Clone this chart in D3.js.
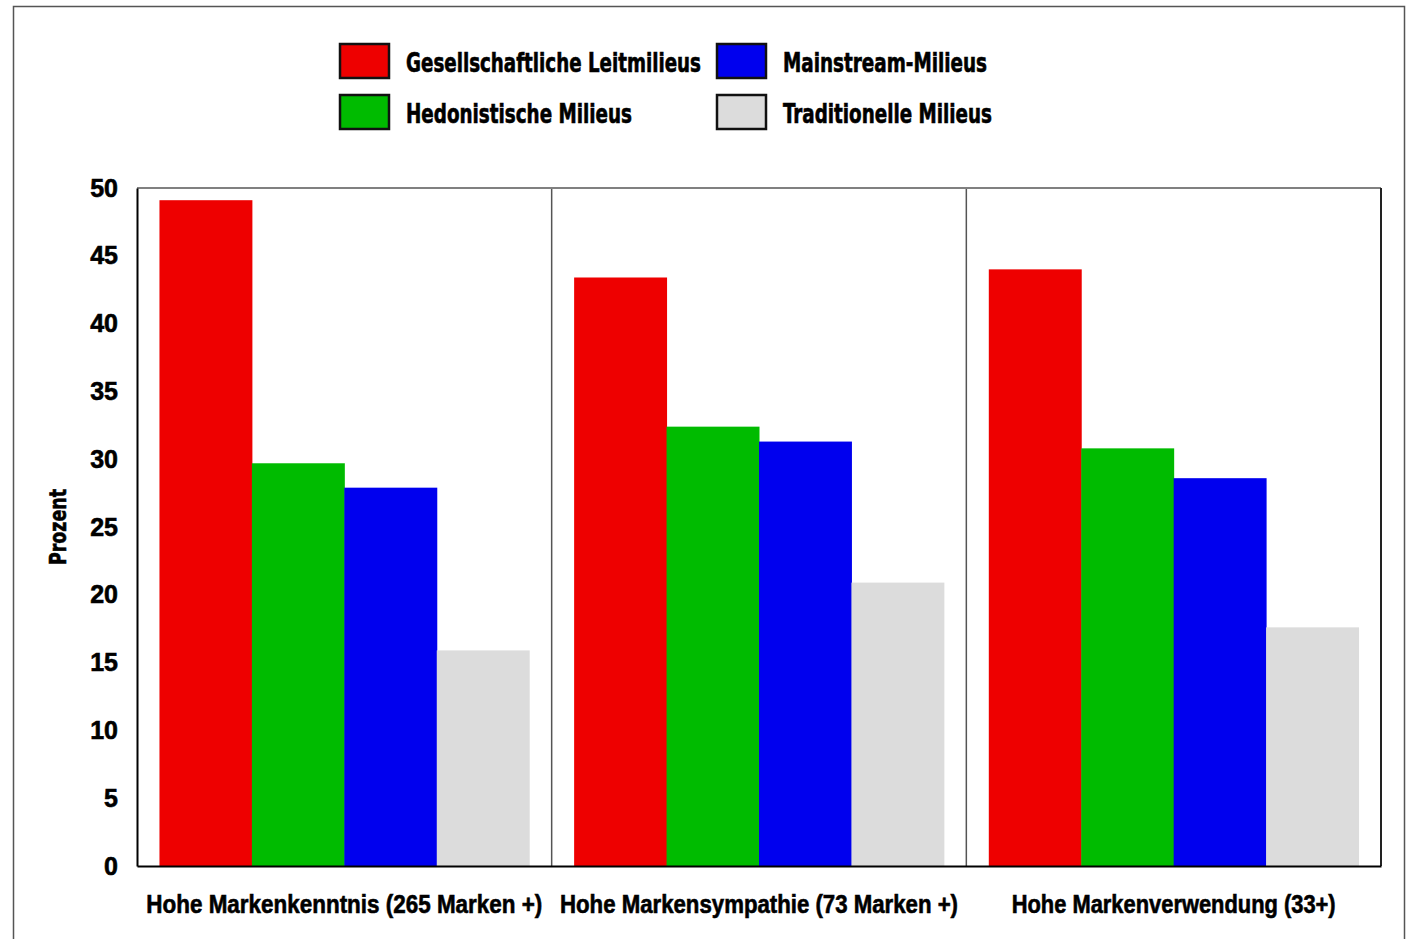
<!DOCTYPE html>
<html>
<head>
<meta charset="utf-8">
<script src="https://cdn.jsdelivr.net/npm/d3@7"></script>
<style>
  html, body { margin: 0; padding: 0; background: #fff; }
  svg text { font-family: "Liberation Sans Narrow", "Arial Narrow", "DejaVu Sans Condensed", sans-serif; font-weight: bold; fill: #000; stroke: #000; stroke-width: 0.6px; }
</style>
</head>
<body>
<svg id="chart" width="1409" height="939"></svg>
<script>
// Categories (x panels) and milieu series
const categories = [
  "Hohe Markenkenntnis (265 Marken +)",
  "Hohe Markensympathie (73 Marken +)",
  "Hohe Markenverwendung (33+)"
];
const seriesNames = [
  "Gesellschaftliche Leitmilieus",
  "Hedonistische Milieus",
  "Mainstream-Milieus",
  "Traditionelle Milieus"
];
const seriesColors = ["#ee0000", "#00bb00", "#0000ee", "#dcdcdc"];

// Percent values per series, one entry per category
const leitmilieus   = [49.1, 43.4, 44.0];
const hedonistisch  = [29.7, 32.4, 30.8];
const mainstream    = [27.9, 31.3, 28.6];
const traditionell  = [15.9, 20.9, 17.6];
const seriesValues = [leitmilieus, hedonistisch, mainstream, traditionell];

const yTicks = [0, 5, 10, 15, 20, 25, 30, 35, 40, 45, 50];
const yLabel = "Prozent";

const svg = d3.select("#chart");

// Outer frame of the figure
svg.append("rect")
  .attr("x", 13.5).attr("y", 6.5)
  .attr("width", 1391).attr("height", 945)
  .attr("fill", "none").attr("stroke", "#555").attr("stroke-width", 1.5);

const plot = { left: 137, right: 1381, top: 188, bottom: 866 };

const y = d3.scaleLinear().domain([0, 50]).range([plot.bottom, plot.top]);
const x0 = d3.scaleBand().domain(categories).range([plot.left, plot.right]).padding(0);
const x1 = d3.scaleBand().domain(seriesNames).range([0, x0.bandwidth()])
  .paddingInner(0).paddingOuter(0.243);

// Bars
const groups = svg.append("g").selectAll("g")
  .data(categories)
  .join("g")
  .attr("transform", d => `translate(${x0(d)},0)`);

groups.selectAll("rect")
  .data((c, ci) => seriesNames.map((s, si) => ({ s, si, v: seriesValues[si][ci] })))
  .join("rect")
  .attr("x", d => x1(d.s))
  .attr("width", x1.bandwidth() + 0.5)
  .attr("y", d => y(d.v))
  .attr("height", d => y(0) - y(d.v))
  .attr("fill", d => seriesColors[d.si]);

// Panel separators
svg.append("g").selectAll("line")
  .data(categories.slice(1))
  .join("line")
  .attr("x1", d => x0(d)).attr("x2", d => x0(d))
  .attr("y1", plot.top).attr("y2", plot.bottom)
  .attr("stroke", "#555").attr("stroke-width", 1.5);

// Plot frame: top, right
svg.append("line").attr("x1", plot.left).attr("x2", plot.right)
  .attr("y1", plot.top).attr("y2", plot.top)
  .attr("stroke", "#808080").attr("stroke-width", 2);
svg.append("line").attr("x1", plot.right).attr("x2", plot.right)
  .attr("y1", plot.top).attr("y2", plot.bottom)
  .attr("stroke", "#222").attr("stroke-width", 2);

// Y axis
const yAxis = d3.axisLeft(y).tickValues(yTicks).tickSize(0).tickPadding(19);
const yg = svg.append("g").attr("transform", `translate(${plot.left},0)`).call(yAxis);
yg.select(".domain").attr("stroke", "#000").attr("stroke-width", 2);
yg.selectAll("text")
  .style("font-family", "'Liberation Sans Narrow', 'Arial Narrow', sans-serif")
  .style("font-weight", "bold")
  .attr("font-size", 25).attr("fill", "#000");

// X axis (category labels)
const xAxis = d3.axisBottom(x0).tickSize(0).tickPadding(29);
const xg = svg.append("g").attr("transform", `translate(0,${plot.bottom})`).call(xAxis);
xg.select(".domain").attr("stroke", "#000").attr("stroke-width", 2);
const xLabelWidths = [396, 398, 324];
xg.selectAll("text")
  .style("font-family", "'Liberation Sans Narrow', 'Arial Narrow', sans-serif")
  .style("font-weight", "bold")
  .attr("font-size", 25).attr("fill", "#000")
  .attr("textLength", (d, i) => xLabelWidths[i])
  .attr("lengthAdjust", "spacingAndGlyphs");

// Y axis title
svg.append("text")
  .attr("transform", "translate(66,527) rotate(-90)")
  .attr("text-anchor", "middle")
  .attr("font-size", 23)
  .attr("textLength", 76)
  .attr("lengthAdjust", "spacingAndGlyphs")
  .text(yLabel);

// Legend (2 x 2)
const legendPos = [
  { x: 340, y: 44 }, { x: 340, y: 95 },
  { x: 717, y: 44 }, { x: 717, y: 95 }
];
const legendTextWidths = [295, 226, 204, 209];
const legend = svg.append("g").selectAll("g")
  .data(seriesNames)
  .join("g")
  .attr("transform", (d, i) => `translate(${legendPos[i].x},${legendPos[i].y})`);
legend.append("rect")
  .attr("width", 49).attr("height", 34)
  .attr("fill", (d, i) => seriesColors[i])
  .attr("stroke", "#111").attr("stroke-width", 2.5);
legend.append("text")
  .attr("x", 66)
  .attr("y", 28)
  .attr("font-size", 26)
  .attr("textLength", (d, i) => legendTextWidths[i])
  .attr("lengthAdjust", "spacingAndGlyphs")
  .text(d => d);
</script>
</body>
</html>
